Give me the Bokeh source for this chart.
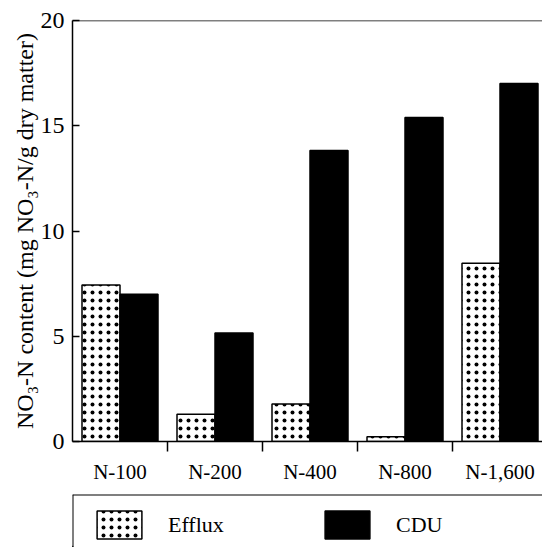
from bokeh.plotting import figure
from bokeh.layouts import column
from bokeh.models import ColumnDataSource, FixedTicker, Range1d, Span, Legend, LegendItem
from bokeh.transform import dodge
from bokeh.embed import file_html
from bokeh.resources import INLINE

# ---- data ----
categories = ["N-100", "N-200", "N-400", "N-800", "N-1,600"]
efflux = [7.43, 1.30, 1.78, 0.23, 8.47]
cdu = [7.00, 5.15, 13.83, 15.39, 17.01]
y_ticks = [0, 5, 10, 15, 20]
series_names = ["Efflux", "CDU"]

FONT = "Liberation Serif"

pos = [i + 0.5 for i in range(len(categories))]
src = ColumnDataSource(dict(pos=pos, cat=categories, efflux=efflux, cdu=cdu))

W = 542
group_px = 95.0
frame_w = W - 72
p1 = figure(width=W, height=486, output_backend="svg", toolbar_location=None,
            x_range=Range1d(0, frame_w / group_px), y_range=Range1d(0, 20),
            min_border_left=72, min_border_right=0, min_border_top=20, min_border_bottom=44)
p1.background_fill_color = "white"
p1.border_fill_color = "white"
p1.outline_line_color = None
p1.grid.visible = False

hatch = dict(hatch_pattern="dot", hatch_color="black", hatch_scale=8, hatch_weight=2.5)
eff_style = dict(fill_color="white", line_color="black", line_width=1.5, **hatch)
cdu_style = dict(fill_color="black", line_color="black", line_width=1.5)

p1.vbar(x=dodge("pos", -0.2, range=p1.x_range), top="efflux", width=0.4, source=src, **eff_style)
p1.vbar(x=dodge("pos", 0.2, range=p1.x_range), top="cdu", width=0.4, source=src, **cdu_style)

# top border of the plot box
p1.add_layout(Span(location=20, dimension="width", line_color="black", line_width=1.5))

xa = p1.xaxis[0]
xa.ticker = FixedTicker(ticks=pos, minor_ticks=[i for i in range(1, len(categories))])
xa.major_label_overrides = {q: c for q, c in zip(pos, categories)}
xa.major_tick_line_color = None
xa.minor_tick_out = 10
xa.minor_tick_in = 0
xa.minor_tick_line_width = 1.5
xa.minor_tick_line_color = "black"
xa.axis_line_width = 1.5
xa.axis_line_color = "black"
xa.major_label_standoff = 8
xa.major_label_text_font = FONT
xa.major_label_text_font_size = "21px"
xa.major_label_text_color = "black"

ya = p1.yaxis[0]
ya.ticker = FixedTicker(ticks=y_ticks, minor_ticks=[])
ya.major_tick_in = 7
ya.major_tick_out = 0
ya.major_tick_line_width = 1.5
ya.major_tick_line_color = "black"
ya.axis_line_width = 1.5
ya.axis_line_color = "black"
ya.major_label_standoff = 8
ya.major_label_text_font = FONT
ya.major_label_text_font_size = "24px"
ya.major_label_text_color = "black"
ya.axis_label = "NO\u2083-N content (mg NO\u2083-N/g dry matter)"
ya.axis_label_text_font = FONT
ya.axis_label_text_font_size = "24px"
ya.axis_label_text_font_style = "normal"
ya.axis_label_text_color = "black"
ya.axis_label_standoff = 0

# ---- legend strip ----
p2 = figure(width=W, height=61, output_backend="svg", toolbar_location=None,
            x_range=Range1d(0, frame_w), y_range=Range1d(0, 53),
            x_axis_type=None, y_axis_type=None,
            min_border_left=72, min_border_right=0, min_border_top=8, min_border_bottom=0)
p2.outline_line_color = None
p2.grid.visible = False
p2.background_fill_color = "white"
p2.border_fill_color = "white"
p2.add_layout(Span(location=53, dimension="width", line_color="black", line_width=2))
p2.add_layout(Span(location=0, dimension="height", line_color="black", line_width=2))

# legend key renderers (placed outside the visible range; only their keys are shown)
k_eff = p2.vbar(x=[-100], top=[1], width=1, **eff_style)
k_cdu = p2.vbar(x=[-100], top=[1], width=1, **cdu_style)

legend = Legend(items=[LegendItem(label=series_names[0], renderers=[k_eff]),
                       LegendItem(label=series_names[1], renderers=[k_cdu])],
                orientation="horizontal", location=(19, 5),
                glyph_width=56, glyph_height=35, label_standoff=21, label_width=100,
                spacing=51, padding=0, margin=0,
                border_line_color=None, background_fill_alpha=0,
                label_text_font=FONT, label_text_font_size="22px", label_text_color="black")
p2.add_layout(legend, "center")

layout = column(p1, p2, spacing=0)
open("out.html", "w").write(file_html(layout, INLINE))
